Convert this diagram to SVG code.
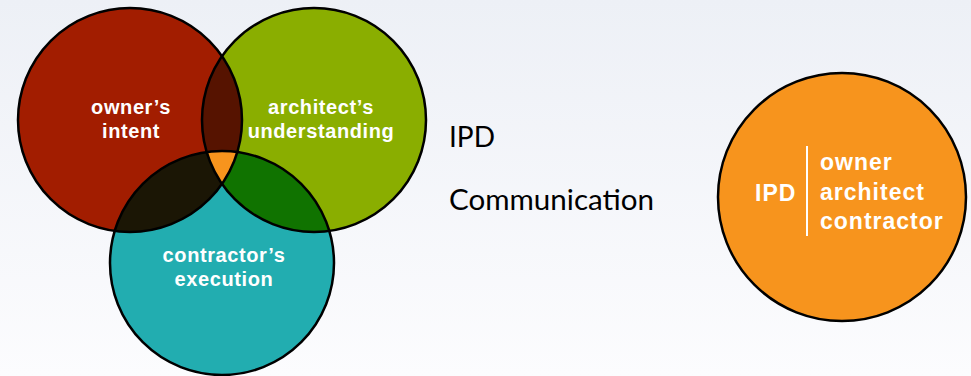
<svg xmlns="http://www.w3.org/2000/svg" width="971" height="376" viewBox="0 0 971 376">
  <defs>
    <linearGradient id="bg" x1="0" y1="0" x2="0" y2="1">
      <stop offset="0" stop-color="#edf0f6"/>
      <stop offset="1" stop-color="#fcfcfe"/>
    </linearGradient>
    <clipPath id="clipRed"><circle cx="130" cy="120" r="112"/></clipPath>
    <clipPath id="clipGreen"><circle cx="314" cy="120" r="112"/></clipPath>
    <clipPath id="clipTeal"><circle cx="222" cy="263" r="112"/></clipPath>
  </defs>
  <style>
    .ring { fill: none; stroke: #000; stroke-width: 2.5; }
    .vlabel { font-family: "Liberation Sans", Arial, sans-serif; font-weight: bold; font-size: 20px; letter-spacing: 0.6px; fill: #fff; text-anchor: middle; }
    .olabel { font-family: "Liberation Sans", Arial, sans-serif; font-weight: bold; font-size: 23px; letter-spacing: 1px; fill: #fff; }
    .plain { font-family: Lato, "Liberation Sans", sans-serif; font-size: 28px; fill: #000; }
  </style>
  <rect x="0" y="0" width="971" height="376" fill="url(#bg)"/>

  <g id="venn">
    <g id="owner">
      <circle cx="130" cy="120" r="112" fill="#a21d00"/>
    </g>
    <g id="architect">
      <circle cx="314" cy="120" r="112" fill="#8aae00"/>
    </g>
    <g id="contractor">
      <circle cx="222" cy="263" r="112" fill="#22adb0"/>
    </g>
    <g id="overlaps">
      <circle cx="314" cy="120" r="112" fill="#561300" clip-path="url(#clipRed)"/>
      <circle cx="222" cy="263" r="112" fill="#1b1605" clip-path="url(#clipRed)"/>
      <circle cx="222" cy="263" r="112" fill="#107300" clip-path="url(#clipGreen)"/>
      <g clip-path="url(#clipRed)">
        <circle cx="222" cy="263" r="112" fill="#f7941d" clip-path="url(#clipGreen)"/>
      </g>
    </g>
    <g id="rings">
      <circle class="ring" cx="130" cy="120" r="112"/>
      <circle class="ring" cx="314" cy="120" r="112"/>
      <circle class="ring" cx="222" cy="263" r="112"/>
    </g>
    <g id="venn-labels">
      <text class="vlabel" x="131" y="114">owner’s</text>
      <text class="vlabel" x="131" y="138">intent</text>
      <text class="vlabel" x="321" y="114">architect’s</text>
      <text class="vlabel" x="321" y="138">understanding</text>
      <text class="vlabel" x="224" y="262">contractor’s</text>
      <text class="vlabel" x="224" y="286">execution</text>
    </g>
  </g>

  <g id="middle-text">
    <text class="plain" x="449" y="147">IPD</text>
    <text class="plain" x="449" y="210" textLength="205" lengthAdjust="spacingAndGlyphs">Communication</text>
  </g>

  <g id="ipd-circle">
    <circle cx="842" cy="197" r="124" fill="#f7941d" stroke="#000" stroke-width="2.5"/>
    <line x1="807" y1="146" x2="807" y2="236" stroke="#fff" stroke-width="2"/>
    <text class="olabel" x="755" y="201">IPD</text>
    <text class="olabel" x="820" y="170">owner</text>
    <text class="olabel" x="820" y="200">architect</text>
    <text class="olabel" x="820" y="229">contractor</text>
  </g>

  <g id="connectors"/>
</svg>
